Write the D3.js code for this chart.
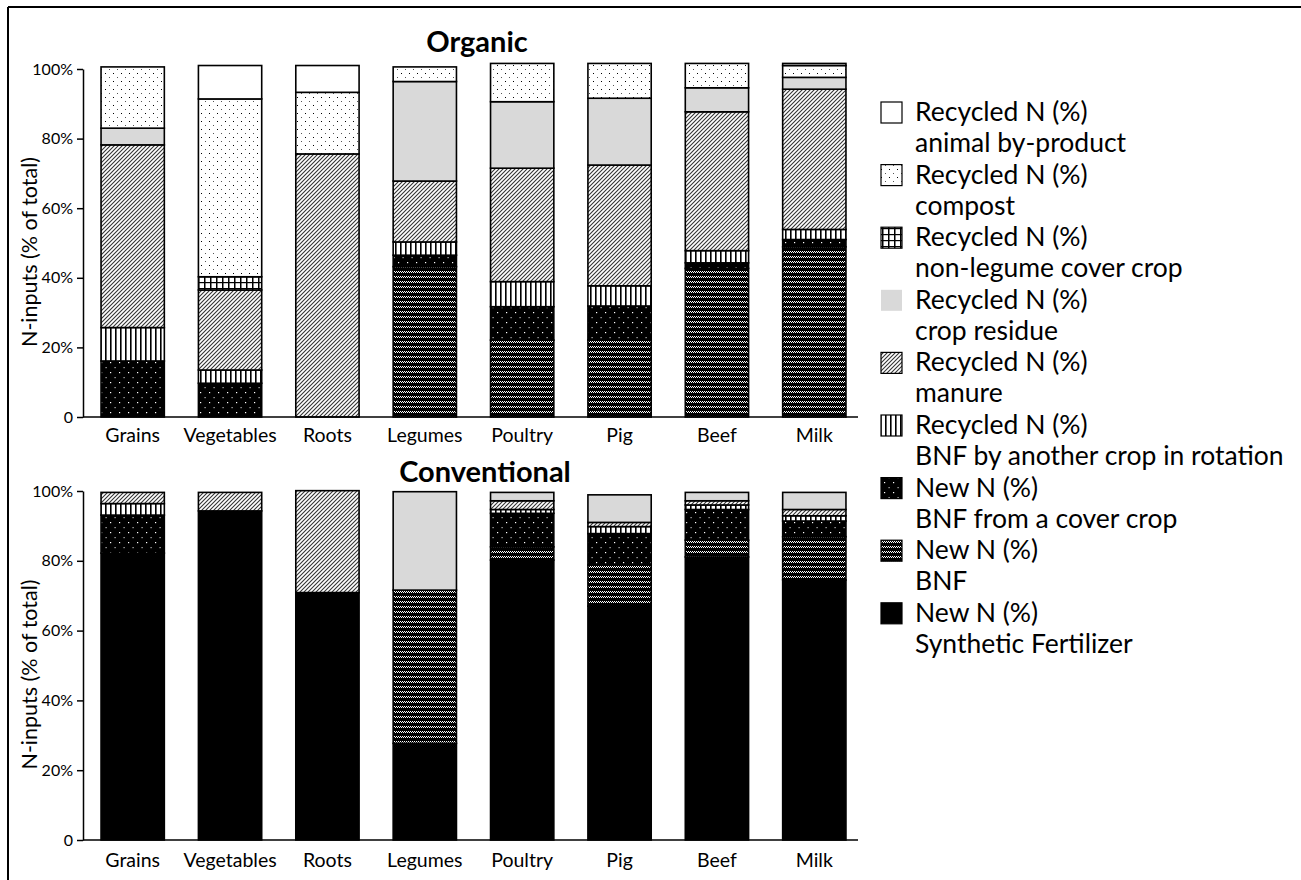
<!DOCTYPE html>
<html lang="en">
<head>
<meta charset="UTF-8">
<title>N-inputs Organic vs Conventional</title>
<script src="https://d3js.org/d3.v7.min.js"></script>
<style>
    body { margin: 0; background: #fff; }
    text { font-family: Lato, "Open Sans", sans-serif; fill: #000; }
    .axis path, .axis line { stroke: #000; stroke-width: 1.5; }
</style>
</head>
<body>
<script>
// categories and series (stack order bottom -> top)
const categories = ["Grains", "Vegetables", "Roots", "Legumes", "Poultry", "Pig", "Beef", "Milk"];
const seriesKeys = ["synthetic", "bnf", "coverBnf", "anotherCrop", "manure", "residue", "nonLegume", "compost", "animal"];
const seriesLabels = [
    ["New N (%)", "Synthetic Fertilizer"],
    ["New N (%)", "BNF"],
    ["New N (%)", "BNF from a cover crop"],
    ["Recycled N (%)", "BNF by another crop in rotation"],
    ["Recycled N (%)", "manure"],
    ["Recycled N (%)", "crop residue"],
    ["Recycled N (%)", "non-legume cover crop"],
    ["Recycled N (%)", "compost"],
    ["Recycled N (%)", "animal by-product"]
];
const yTicks = [0, 20, 40, 60, 80, 100];

// Organic values (% of total), one array per series
const orgSynthetic   = [0, 0, 0, 0, 0, 0, 0, 0];
const orgBnf         = [0, 0, 0, 43.2, 22.1, 22.1, 42.7, 48.9];
const orgCoverBnf    = [16.1, 9.7, 0, 3.3, 9.6, 9.8, 1.6, 2.1];
const orgAnotherCrop = [9.6, 3.8, 0, 3.8, 7.2, 5.8, 3.5, 2.9];
const orgManure      = [52.5, 23, 75.6, 17.5, 32.6, 34.7, 39.9, 40.3];
const orgResidue     = [4.8, 0, 0, 28.6, 19.1, 19.2, 6.9, 3.4];
const orgNonLegume   = [0, 3.8, 0, 0, 0, 0, 0, 0];
const orgCompost     = [17.6, 51.1, 17.7, 4.2, 11, 10, 7, 3.4];
const orgAnimal      = [0, 9.6, 7.7, 0, 0, 0, 0, 0.6];

// Conventional values (% of total)
const convSynthetic   = [82.2, 94.3, 70.9, 27.7, 80.2, 67, 81.1, 74.5];
const convBnf         = [0, 0, 0, 43.9, 3.8, 11.8, 4.8, 12.4];
const convCoverBnf    = [10.9, 0, 0, 0, 9.6, 9, 8.8, 4.5];
const convAnotherCrop = [3.3, 0, 0, 0, 1.1, 2, 1.3, 1.5];
const convManure      = [3.2, 5.3, 29.2, 0, 2.5, 1.2, 1.2, 1.8];
const convResidue     = [0, 0, 0, 28.2, 2.4, 7.9, 2.4, 4.9];
const convNonLegume   = [0, 0, 0, 0, 0, 0, 0, 0];
const convCompost     = [0, 0, 0, 0, 0, 0, 0, 0];
const convAnimal      = [0, 0, 0, 0, 0, 0, 0, 0];

const organic = [orgSynthetic, orgBnf, orgCoverBnf, orgAnotherCrop, orgManure, orgResidue, orgNonLegume, orgCompost, orgAnimal];
const conventional = [convSynthetic, convBnf, convCoverBnf, convAnotherCrop, convManure, convResidue, convNonLegume, convCompost, convAnimal];

const W = 1301, H = 880;
const svg = d3.select('body').append('svg')
    .attr('width', W)
    .attr('height', H);

// ---- fill patterns ----
const defs = svg.append('defs');

function pat(id, w, h) {
    return defs.append('pattern')
        .attr('id', id)
        .attr('patternUnits', 'userSpaceOnUse')
        .attr('width', w)
        .attr('height', h);
}

// compost: sparse dots on white
let p = pat('p-compost', 8, 8);
p.append('rect').attr('width', 8).attr('height', 8).attr('fill', '#fff');
p.append('rect').attr('x', 1).attr('y', 1).attr('width', 1).attr('height', 1).attr('fill', '#000');
p.append('rect').attr('x', 5).attr('y', 5).attr('width', 1).attr('height', 1).attr('fill', '#555');

// non-legume cover crop: grid
p = pat('p-grid', 6, 6);
p.append('rect').attr('width', 6).attr('height', 6).attr('fill', '#fff');
p.append('rect').attr('x', 0).attr('y', 0).attr('width', 1.5).attr('height', 6).attr('fill', '#000');
p.append('rect').attr('x', 0).attr('y', 0).attr('width', 6).attr('height', 1.2).attr('fill', '#000');

// manure: fine diagonal hatch
p = pat('p-manure', 4, 4);
p.append('rect').attr('width', 4).attr('height', 4).attr('fill', '#fff');
p.append('path').attr('d', 'M-1,1 L1,-1 M0,4 L4,0 M3,5 L5,3')
    .attr('stroke', '#333').attr('stroke-width', 1.1);

// BNF by another crop: vertical lines
p = pat('p-vert', 5, 5);
p.append('rect').attr('width', 5).attr('height', 5).attr('fill', '#fff');
p.append('rect').attr('x', 0).attr('y', 0).attr('width', 1.6).attr('height', 5).attr('fill', '#000');

// BNF from a cover crop: black with white dots
p = pat('p-cover', 9, 10);
p.append('rect').attr('width', 9).attr('height', 10).attr('fill', '#000');
p.append('rect').attr('x', 2).attr('y', 2).attr('width', 1.2).attr('height', 1.2).attr('fill', '#fff');
p.append('rect').attr('x', 6.5).attr('y', 7).attr('width', 1.2).attr('height', 1.2).attr('fill', '#bbb');

// BNF: black with checkered white bands
p = pat('p-bnf', 4, 5);
p.append('rect').attr('width', 4).attr('height', 5).attr('fill', '#000');
[[0, 1], [2, 1], [1, 2], [3, 2]].forEach(([x, y]) => {
    p.append('rect').attr('x', x).attr('y', y).attr('width', 1).attr('height', 1).attr('fill', '#fff');
});

const fills = {
    synthetic: '#000',
    bnf: 'url(#p-bnf)',
    coverBnf: 'url(#p-cover)',
    anotherCrop: 'url(#p-vert)',
    manure: 'url(#p-manure)',
    residue: '#d9d9d9',
    nonLegume: 'url(#p-grid)',
    compost: 'url(#p-compost)',
    animal: '#fff'
};

// ---- frame ----
svg.append('line').attr('x1', 8).attr('x2', W).attr('y1', 7).attr('y2', 7)
    .attr('stroke', '#000').attr('stroke-width', 2);
svg.append('line').attr('x1', 8).attr('x2', 8).attr('y1', 7).attr('y2', H)
    .attr('stroke', '#000').attr('stroke-width', 2);

// ---- panels ----
const xScale = d3.scaleBand()
    .domain(categories)
    .range([84, 863])
    .paddingInner(0.35)
    .paddingOuter(0.175);

function drawPanel(values, y0, y1, title, titleX, titleY, labelY) {
    const yScale = d3.scaleLinear().domain([0, 100]).range([y0, y1]);

    const rows = categories.map((c, i) => {
        const r = { cat: c };
        seriesKeys.forEach((k, j) => { r[k] = values[j][i]; });
        return r;
    });
    const stacked = d3.stack().keys(seriesKeys)(rows);

    const g = svg.append('g');
    stacked.forEach(layer => {
        g.selectAll(null)
            .data(layer.filter(d => d[1] - d[0] > 0))
            .enter().append('rect')
            .attr('x', d => xScale(d.data.cat))
            .attr('width', xScale.bandwidth())
            .attr('y', d => yScale(d[1]))
            .attr('height', d => yScale(d[0]) - yScale(d[1]))
            .attr('fill', fills[layer.key])
            .attr('stroke', '#000')
            .attr('stroke-width', 1.6);
    });

    // x axis line + labels
    svg.append('line')
        .attr('x1', xScale.range()[0] - 1).attr('x2', xScale.range()[1] - 5)
        .attr('y1', y0).attr('y2', y0)
        .attr('stroke', '#000').attr('stroke-width', 1.5);
    svg.append('g')
        .selectAll('text')
        .data(categories)
        .enter().append('text')
        .attr('x', d => xScale(d) + xScale.bandwidth() / 2)
        .attr('y', labelY)
        .attr('text-anchor', 'middle')
        .style('font-size', '19.5px')
        .text(d => d);

    // y axis
    const ax = svg.append('g')
        .attr('class', 'axis')
        .attr('transform', `translate(83,0)`)
        .call(d3.axisLeft(yScale)
            .tickValues(yTicks)
            .tickSize(6)
            .tickSizeOuter(0)
            .tickPadding(4)
            .tickFormat(d => d === 0 ? '0' : d + '%'));
    ax.selectAll('text')
        .style('font-family', 'Lato, sans-serif')
        .style('font-size', '16px');

    // y axis label
    svg.append('text')
        .attr('transform', `translate(37,${(y0 + y1) / 2 + 9}) rotate(-90)`)
        .attr('text-anchor', 'middle')
        .style('font-size', '21.5px')
        .text('N-inputs (% of total)');

    // title
    svg.append('text')
        .attr('x', titleX)
        .attr('y', titleY)
        .attr('text-anchor', 'middle')
        .style('font-size', '29px')
        .style('font-weight', 'bold')
        .text(title);
}

drawPanel(organic, 417, 69, 'Organic', 477, 52, 442);
drawPanel(conventional, 840, 491, 'Conventional', 485, 482, 867);

// ---- legend (reverse of stack order) ----
const legendItems = seriesKeys.map((k, i) => ({ key: k, lines: seriesLabels[i] })).reverse();
const legend = svg.append('g');
legendItems.forEach((d, i) => {
    const cy = 113 + i * 62.6;
    legend.append('rect')
        .attr('x', 881).attr('y', cy - 11)
        .attr('width', 21).attr('height', 21)
        .attr('fill', fills[d.key])
        .attr('stroke', d.key === 'residue' ? 'none' : '#000')
        .attr('stroke-width', 1.2);
    legend.append('text')
        .attr('x', 915).attr('y', cy + 8)
        .style('font-size', '26.5px')
        .text(d.lines[0]);
    legend.append('text')
        .attr('x', 915).attr('y', cy + 39)
        .style('font-size', '26.5px')
        .text(d.lines[1]);
});
</script>
</body>
</html>
